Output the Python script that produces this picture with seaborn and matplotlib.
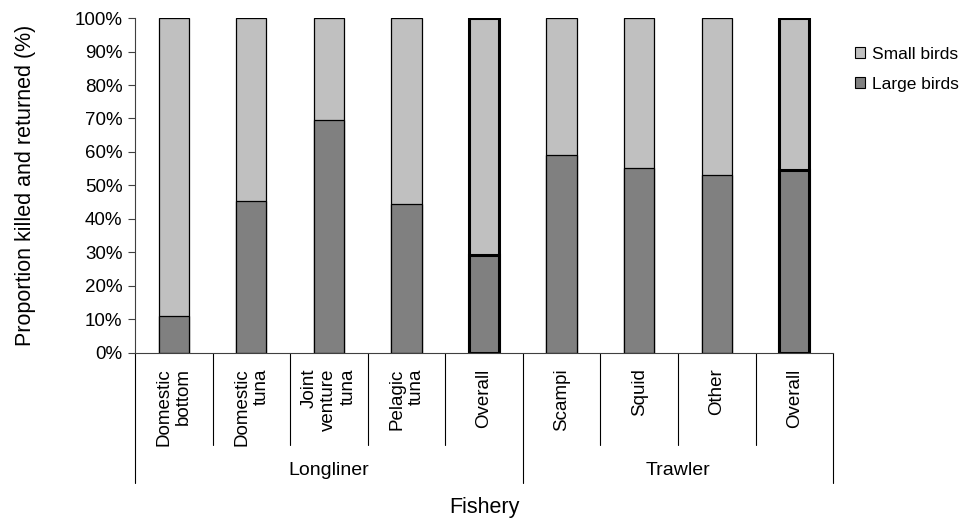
import numpy as np
import pandas as pd
import seaborn as sns
import matplotlib.pyplot as plt
from matplotlib.patches import Patch

# data
fisheries = ["Domestic\nbottom", "Domestic\ntuna", "Joint\nventure\ntuna", "Pelagic\ntuna", "Overall",
             "Scampi", "Squid", "Other", "Overall"]
groups = ["Longliner"] * 5 + ["Trawler"] * 4
large_birds = [11.0, 45.4, 69.6, 44.6, 29.3, 59.0, 55.2, 53.1, 54.7]
small_birds = [100 - v for v in large_birds]

sns.set_theme(style="white")
plt.rcParams["font.family"] = ["Liberation Sans", "DejaVu Sans"]
plt.rcParams.update({"text.color": "black", "axes.labelcolor": "black",
                     "xtick.color": "black", "ytick.color": "black"})

data = pd.DataFrame({
    "key": [f"{g} {f}" for g, f in zip(groups, fisheries)],
    "large": large_birds,
    "small": small_birds,
})
data["total"] = data["large"] + data["small"]

fig = plt.figure(figsize=(9.71, 5.22), dpi=100)
ax = fig.add_axes([0.139, 0.3238, 0.719, 0.6417])

light = "#c0c0c0"
dark = "#808080"
sns.barplot(data=data, x="key", y="total", color=light, saturation=1, width=0.39, ax=ax)
sns.barplot(data=data, x="key", y="large", color=dark, saturation=1, width=0.39, ax=ax)

# edges: thick outline for the "Overall" bars
n = len(fisheries)
for i, p in enumerate(ax.patches):
    j = i % n
    p.set_edgecolor("black")
    p.set_linewidth(2.2 if fisheries[j] == "Overall" else 0.9)

ax.set_xlim(-0.5, n - 0.5)
ax.set_ylim(0, 100)
ax.set_yticks(np.arange(0, 101, 10))
ax.set_yticklabels([f"{v}%" for v in range(0, 101, 10)], fontsize=13.5)
ax.tick_params(axis="y", left=True, length=5, width=0.8, color="#404040", pad=4)

ax.set_xticks(range(n))
ax.set_xticklabels(fisheries, rotation=90, fontsize=13.5, ha="center", va="top",
                   multialignment="right")
ax.tick_params(axis="x", bottom=False, pad=5)

for s in ["top", "right"]:
    ax.spines[s].set_visible(False)
for s in ["left", "bottom"]:
    ax.spines[s].set_color("#404040")
    ax.spines[s].set_linewidth(0.8)

ax.set_xlabel("")
ax.set_ylabel("Proportion killed and returned (%)", fontsize=15.5, labelpad=28)

# category separators below the axis
trans = ax.get_xaxis_transform()
for b in np.arange(-0.5, n, 1.0):
    long_line = b in (-0.5, 4.5, n - 0.5)
    y0 = -0.388 if long_line else -0.275
    ax.plot([b, b], [0, y0], color="black", lw=0.8, transform=trans, clip_on=False)

ax.text(2.0, -0.35, "Longliner", transform=trans, ha="center", va="center", fontsize=14)
ax.text(6.5, -0.35, "Trawler", transform=trans, ha="center", va="center", fontsize=14)
ax.text((n - 1) / 2, -0.46, "Fishery", transform=trans, ha="center", va="center", fontsize=15.5)

handles = [Patch(facecolor=light, edgecolor="black", lw=0.8, label="Small birds"),
           Patch(facecolor=dark, edgecolor="black", lw=0.8, label="Large birds")]
fig.legend(handles=handles, loc="upper left", bbox_to_anchor=(0.864, 0.94),
           frameon=False, fontsize=12.5, handlelength=0.6, handleheight=0.6,
           handletextpad=0.4, labelspacing=0.85)

fig.savefig("out.png", dpi=100)
